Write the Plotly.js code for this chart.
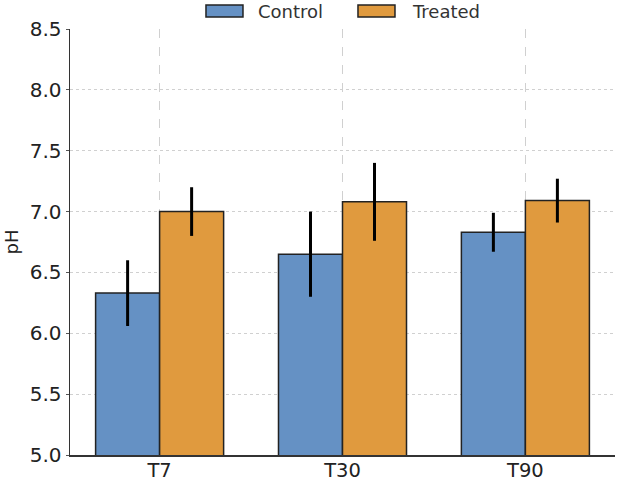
<!DOCTYPE html>
<html>
<head>
<meta charset="utf-8">
<script src="https://cdn.plot.ly/plotly-3.0.1.min.js"></script>
<style>
  html, body { margin: 0; padding: 0; background: #fff; }
  #chart { width: 617px; height: 478px; }
</style>
</head>
<body>
<div id="chart"></div>
<script>
// pH by time point, control vs treated (mean ± error)
const timepoints = ["T7", "T30", "T90"];
const controlMean = [6.33, 6.65, 6.83];
const controlErr = [0.27, 0.35, 0.16];
const treatedMean = [7.00, 7.08, 7.09];
const treatedErr = [0.20, 0.32, 0.18];
const yTicks = [5.0, 5.5, 6.0, 6.5, 7.0, 7.5, 8.0, 8.5];

const font = "DejaVu Sans, sans-serif";
const edge = "#222";

function barTrace(name, y, err, color) {
  return {
    type: "bar",
    name: name,
    x: timepoints,
    y: y,
    marker: { color: color, line: { color: edge, width: 1.5 } },
    error_y: { type: "data", array: err, visible: true, color: "#000", thickness: 3, width: 0 },
    width: 0.35
  };
}

const data = [
  barTrace("Control", controlMean, controlErr, "#6591c4"),
  barTrace("Treated", treatedMean, treatedErr, "#e09a3e")
];

// Legend drawn above the plot with wide swatches (paper coordinates)
const legendItems = [
  { x0: 0.2495, x1: 0.3174, tx: 0.3413 },
  { x0: 0.5284, x1: 0.5963, tx: 0.6239 }
];
const shapes = [];
const annotations = [];
data.forEach((tr, i) => {
  const it = legendItems[i];
  shapes.push({
    type: "rect", xref: "paper", yref: "paper",
    x0: it.x0, x1: it.x1, y0: 1.0282, y1: 1.0563,
    fillcolor: tr.marker.color, line: { color: edge, width: 1.5 }
  });
  annotations.push({
    xref: "paper", yref: "paper", x: it.tx, y: 1.042,
    xanchor: "left", yanchor: "middle", showarrow: false,
    text: tr.name, font: { family: font, size: 18, color: "#333" }
  });
});

const layout = {
  width: 617,
  height: 478,
  margin: { l: 70, r: 2, t: 29, b: 23 },
  paper_bgcolor: "#fff",
  plot_bgcolor: "#fff",
  font: { family: font, size: 18, color: "#222" },
  barmode: "group",
  bargap: 0.3,
  bargroupgap: 0,
  showlegend: false,
  shapes: shapes,
  annotations: annotations,
  xaxis: {
    type: "category",
    range: [-0.49, 2.49],
    showgrid: true,
    gridcolor: "#d0d0d0",
    griddash: "dash",
    gridwidth: 1,
    showline: true,
    linecolor: "#333",
    linewidth: 1.5,
    ticks: "",
    ticklabelstandoff: -3,
    tickfont: { family: font, size: 19.5, color: "#222" },
    zeroline: false
  },
  yaxis: {
    range: [5.0, 8.5],
    tickvals: yTicks,
    ticktext: yTicks.map(v => v.toFixed(1)),
    showgrid: true,
    gridcolor: "#d0d0d0",
    griddash: "dot",
    gridwidth: 1,
    showline: true,
    linecolor: "#333",
    linewidth: 1.5,
    ticks: "outside",
    ticklen: 3,
    tickcolor: "#555",
    tickfont: { family: font, size: 20, color: "#222" },
    title: { text: "pH", font: { family: font, size: 18, color: "#222" }, standoff: 6 },
    zeroline: false
  }
};

Plotly.newPlot("chart", data, layout, { displayModeBar: false, staticPlot: true });
</script>
</body>
</html>
